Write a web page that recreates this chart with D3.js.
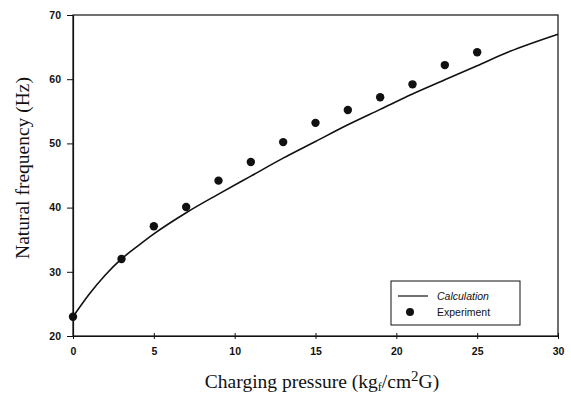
<!DOCTYPE html>
<html>
<head>
<meta charset="utf-8">
<script src="https://cdn.jsdelivr.net/npm/d3@7"></script>
<style>
  body { margin: 0; background: #fff; }
  svg text { fill: #111; }
</style>
</head>
<body>
<div id="chart"></div>
<script>
// data
var calc_pressure = [0, 1, 2, 3, 4, 5, 7, 9, 11, 13, 15, 17, 19, 21, 23, 25, 27, 30];
var calc_freq = [23, 26.5, 29.5, 32, 34, 35.9, 39.2, 42.1, 44.9, 47.7, 50.3, 52.9, 55.3, 57.7, 59.9, 62.1, 64.3, 67];
var exp_pressure = [0, 3, 5, 7, 9, 11, 13, 15, 17, 19, 21, 23, 25];
var exp_freq = [23, 32, 37.1, 40.1, 44.2, 47.1, 50.2, 53.2, 55.2, 57.2, 59.2, 62.2, 64.2];
var x_ticks = [0, 5, 10, 15, 20, 25, 30];
var y_ticks = [20, 30, 40, 50, 60, 70];
var legend_labels = ["Calculation", "Experiment"];

var width = 571, height = 401;
var margin = {top: 15, right: 13, bottom: 65, left: 73};

var svg = d3.select("#chart")
  .append("svg")
    .attr("width", width)
    .attr("height", height);

var x = d3.scaleLinear().domain([0, 30]).range([margin.left, width - margin.right]);
var y = d3.scaleLinear().domain([20, 70]).range([height - margin.bottom, margin.top]);

// frame (top + right)
svg.append("rect")
  .attr("x", x(0)).attr("y", y(70))
  .attr("width", x(30) - x(0)).attr("height", y(20) - y(70))
  .attr("fill", "none").attr("stroke", "#111").attr("stroke-width", 1.2);

// x axis
var xAxis = svg.append("g")
  .attr("transform", "translate(0," + y(20) + ")")
  .call(d3.axisBottom(x).tickValues(x_ticks).tickSize(3).tickSizeOuter(0).tickPadding(9));
xAxis.selectAll(".tick line").attr("y1", -3).attr("y2", 3);

// y axis
var yAxis = svg.append("g")
  .attr("transform", "translate(" + x(0) + ",0)")
  .call(d3.axisLeft(y).tickValues(y_ticks).tickSize(6).tickSizeOuter(0).tickPadding(6));

[xAxis, yAxis].forEach(function(a) {
  a.select(".domain").attr("stroke", "#111").attr("stroke-width", 1.2);
  a.selectAll(".tick line").attr("stroke", "#111").attr("stroke-width", 1);
  a.selectAll(".tick text")
    .style("font-family", "Liberation Sans, Arial, sans-serif")
    .style("font-size", "10.5px")
    .style("font-weight", "bold")
    .attr("fill", "#111");
});

// calculation curve
var line = d3.line()
  .x(function(d, i) { return x(calc_pressure[i]); })
  .y(function(d) { return y(d); })
  .curve(d3.curveMonotoneX);

svg.append("path")
  .datum(calc_freq)
  .attr("d", line)
  .attr("fill", "none")
  .attr("stroke", "#111")
  .attr("stroke-width", 1.6);

// experiment points
svg.selectAll("circle.exp")
  .data(exp_freq)
  .join("circle")
    .attr("class", "exp")
    .attr("cx", function(d, i) { return x(exp_pressure[i]); })
    .attr("cy", function(d) { return y(d); })
    .attr("r", 4.2)
    .attr("fill", "#111");

// legend
var lg = svg.append("g").attr("transform", "translate(391,281)");
lg.append("rect")
  .attr("width", 129).attr("height", 44)
  .attr("fill", "#fff").attr("stroke", "#111").attr("stroke-width", 1);
lg.append("line")
  .attr("x1", 7).attr("x2", 37).attr("y1", 15).attr("y2", 15)
  .attr("stroke", "#111").attr("stroke-width", 1.2);
lg.append("circle").attr("cx", 19).attr("cy", 31).attr("r", 4).attr("fill", "#111");
lg.selectAll("text.lab")
  .data(legend_labels)
  .join("text")
    .attr("class", "lab")
    .attr("x", 46)
    .attr("y", function(d, i) { return 19 + i * 16; })
    .style("font-family", "Liberation Sans, Arial, sans-serif")
    .style("font-size", "10.5px")
    .style("font-style", function(d, i) { return i == 0 ? "italic" : "normal"; })
    .text(function(d) { return d; });

// axis titles
var xt = svg.append("text")
  .attr("x", 322)
  .attr("y", 388)
  .attr("text-anchor", "middle")
  .style("font-family", "Liberation Serif, Times New Roman, serif")
  .style("font-size", "19.5px");
xt.append("tspan").text("Charging pressure (kg");
xt.append("tspan").attr("font-size", "12px").attr("dy", 3).text("f");
xt.append("tspan").attr("dy", -3).text("/cm");
xt.append("tspan").attr("font-size", "15px").attr("dy", -7).text("2");
xt.append("tspan").attr("dy", 7).text("G)");

svg.append("text")
  .attr("transform", "translate(29,168) rotate(-90)")
  .attr("text-anchor", "middle")
  .style("font-family", "Liberation Serif, Times New Roman, serif")
  .style("font-size", "19.5px")
  .text("Natural frequency (Hz)");
</script>
</body>
</html>
